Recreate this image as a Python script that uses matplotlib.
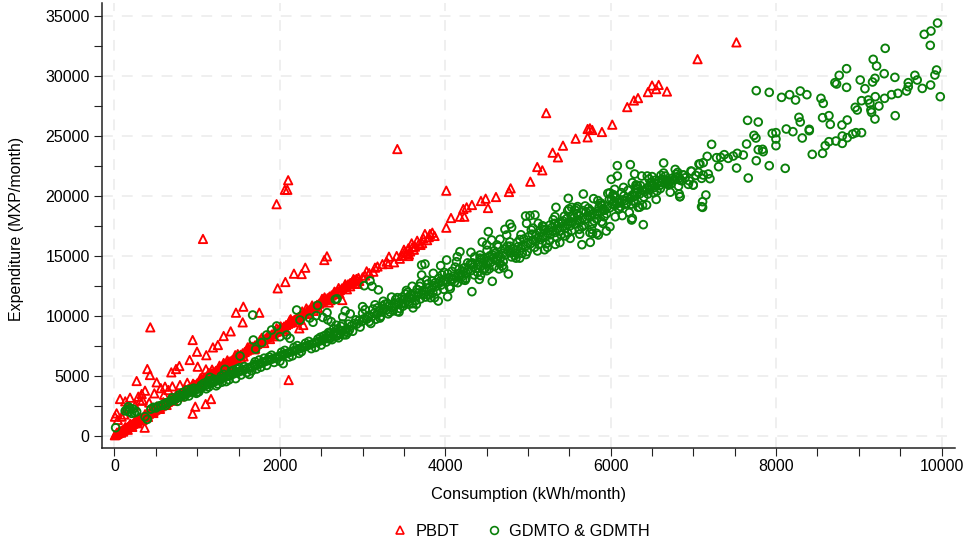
import matplotlib
matplotlib.use("Agg")
import matplotlib.pyplot as plt
from matplotlib.lines import Line2D

plt.rcParams['font.family'] = ['Liberation Sans', 'DejaVu Sans']

pbdt_outliers = [(433,9024),(945,7967),(998,6994),(909,6299),(1006,5742),(1106,5520),(784,5798),(744,5548),(687,5270),
 (397,5548),(429,5047),(268,4547),(510,4436),(611,4074),(651,3796),(369,3740),(329,3462),(288,3240),(482,3517),(188,3156),
 (67,3045),(792,4213),(26,1849),(6,1571),(87,1571),(365,653),(945,1821),(977,2405),(1102,2628),(1167,3045),(2106,4630),
 (1405,8690),(1469,10248),(1558,10748),(1550,9441),(1751,10248),(1973,12278),(2066,12806),(2170,13502),(2263,13474),
 (2307,14002),(2537,14642),(2569,14948),(3049,13696),(3150,14002),(3130,13668),(3291,14503),(3319,14920),(3311,14308),
 (3412,14975),(3532,15198),(2755,11305),(2235,8941),(2283,9219),(1070,16400),(1960,19300),(2060,20500),(2090,20500),
 (2100,21300),(3420,23900),(1250,7550),(1320,8300),(1190,7350),(1110,6700),(880,4400),(560,3950),(600,3400),(250,2500),
 (310,2900),(420,2750),(150,2300),(130,2850),(340,2950),(700,4100),(1050,4750),(40,1300),(120,1750)]

pbdt_upper = [(6019,25934),(5894,25322),(5749,25628),(5721,25572),(5777,25489),(5721,24877),(5576,24766),(5423,24182),
 (5298,23598),(5362,23208),(5112,22402),(5173,22124),(5028,21178),(4790,20622),(4770,20316),(4613,19899),(4488,19760),
 (4431,19565),(4516,18981),(4322,19232),(4258,19037),(4218,18898),(4230,18258),(4177,18258),(4069,18147),(4012,20427),
 (4012,17340),(3843,16923),(3815,16812),(3754,16812),(3734,16450),(3633,15755),(3593,16033),(3553,15616),(3512,15338),
 (3553,14977),(7050,31400),(7520,32800),(6450,28650),(6500,29200),(6580,29250),(6680,28700),(6550,28900),(6280,27950),
 (6330,28150),(6200,27400),(5220,26900),(3870,16650),(3780,16300),(3680,16000),(3620,15500),(3575,15350),(3480,15000),
 (3450,14750),(3380,14450)]

pbdt_band = [(5,20),(12,50),(20,90),(28,120),(36,160),(44,190),(52,230),(60,260),(68,300),(76,330),(84,370),(92,400),
 (100,440),(110,480),(120,520),(130,560),(140,610),(150,650),(160,700),(172,750),(185,800),(198,860),(210,910),(224,970),
 (238,1030),(252,1090),(266,1150),(280,1220),(296,1290),(312,1360),(328,1430),(345,1500),(362,1570),(380,1650),(398,1730),
 (416,1810),(435,1890),(455,1980),(475,2060),(495,2150),(515,2240),(535,2330),(556,2420),(578,2510),(600,2610),(622,2700),
 (645,2800),(668,2900),(692,3000),(716,3110),(740,3220),(765,3330),(790,3440),(815,3550),(840,3650),(866,3770),(892,3880),
 (918,3990),(945,4110),(972,4230),(1000,4350),(1025,4480),(1050,4600),(1075,4720),(1100,4830),(1125,4950),(1150,5060),
 (1175,5170),(1200,5290),(1225,5390),(1250,5510),(1275,5620),(1300,5740),(1325,5860),(1350,5950),(1375,6080),(1400,6190),
 (1425,6290),(1450,6400),(1475,6530),(1500,6640),(1525,6730),(1550,6860),(1575,6970),(1600,7080),(1625,7180),(1650,7300),
 (1675,7410),(1700,7520),(1725,7640),(1750,7730),(1775,7860),(1800,7970),(1825,8090),(1850,8180),(1875,8310),(1900,8420),
 (1925,8510),(1950,8640),(1975,8760),(2000,8860),(2025,8980),(2050,9090),(2075,9210),(2100,9320),(2125,9410),(2150,9540),
 (2175,9650),(2200,9760),(2225,9880),(2250,9990),(2275,10110),(2300,10200),(2325,10340),(2350,10440),(2375,10560),
 (2400,10670),(2425,10780),(2450,10900),(2475,11000),(2500,11130),(2525,11240),(2550,11360),(2575,11450),(2600,11590),
 (2625,11690),(2650,11800),(2675,11930),(2700,12040),(2725,12130),(2750,12270),(2775,12380),(2800,12480),(2825,12610),
 (2850,12720),(2875,12820),(2900,12950),(2925,13060),(2950,13150),(1180,5500),(1240,5150),(1320,6050),(1380,5850),
 (1460,6700),(1530,6450),(1610,7350),(1700,7250),(1780,8150),(1880,8050),(1960,8950),(2040,8700),(2130,9700),(2230,9650),
 (2320,10600),(2410,10400),(2510,11400),(2610,11300),(2710,12300),(2810,12200),(2910,12700),(3000,13200),(2960,12900)]

pbdt_band_edges = [(30,240),(55,330),(80,240),(105,330),(130,700),(160,480),(190,980),(215,720),(250,1260),(275,1020),
 (305,1500),(340,1300),(370,1780),(405,1550),(440,2080),(470,1880),(510,2420),(550,2220),(590,2780),(630,2550),(670,3080),
 (710,2920),(750,3420),(800,3260),(850,3860),(900,3700),(950,4320),(1000,4130),(1040,4780),(1090,4580),(1140,5220),(1195,5040),
 (1270,5820),(1310,5480),(1365,6270),(1415,6030),(1490,6790),(1560,6600),(1640,7500),(1690,7190),(1760,7950),(1810,7720),
 (1860,8400),(1930,8280),(2010,9100),(2060,8860),(2120,9600),(2190,9450),(2270,10350),(2340,10150),(2390,10850),(2460,10650),
 (2540,11520),(2590,11100),(2660,12000),(2720,11850),(2790,12620),(2850,12450),(2890,13050),(2940,12650),(3030,13350),(3080,13550),
 (3180,14100),(3240,14300),(3700,15900),(3600,15700),(3660,16250),(3800,16550),(3720,16050),(3560,15100),(3500,15500)]

gdm_low = [(14,653),(167,2405),(208,1849),(268,1988),(369,1571),(397,1349),(150,2150),(175,2000),(190,2250),(225,2200),
 (240,1900),(130,2050),(1671,10053),(2203,10470),(2243,9636),(1518,6632),(1679,7967),(1707,7216),(1780,7745),(1840,8385),
 (1900,8802),(1961,9135),(2001,8245),(2082,8385),(2122,8106),(1336,5520),(1155,4853),(2670,11350),(2690,11400),(2455,10850),
 (2440,10000),(2570,10250),(2360,9800),(3090,12900),(3020,12500),(3115,12450),(3190,12150),(2620,9500),(2580,9650),(2680,9200),
 (2520,9850),(2400,9450),(2760,9900),(2850,10150),(2790,10400),
 (440,2200),(470,2350),(500,2300),(530,2450),(560,2500),(590,2600),(620,2700),(650,2780),(680,2880),(710,2960),(740,3050),
 (770,3160),(800,3260),(830,3350),(860,3440),(890,3540),(920,3620),(950,3720),(980,3800),(1010,3900),(1040,3990),(1070,4080),
 (1100,4180),(1130,4260),(1160,4360),(1190,4430),(1220,4520),(1250,4620),(1280,4690),(1310,4780),(1340,4870),(1370,4950),
 (1400,5040),(1430,5110),(1460,5200),(1490,5270),(1520,5370),(1550,5430),(1580,5530),(1610,5600),(1640,5690),(1670,5760),
 (1700,5850),(1730,5920),(1760,6010),(1790,6080),(1820,6170),(1850,6240),(1880,6320),(1910,6390),(1940,6480),(1970,6550),
 (2000,6640),(2030,6700),(2060,6790),(2090,6860),(2120,6950),(2150,7020),(2180,7100),(2210,7170),(2240,7260),(2270,7330),
 (2300,7410),(2330,7490),(2360,7570),(2390,7640),(2420,7730),(2450,7800),(2480,7880),(2510,7950),
 (620,2500),(700,3150),(760,2850),(830,3600),(900,3300),(960,3950),(1020,3650),(1080,4350),(1140,4050),(1200,4700),
 (1250,4300),(1290,4950),(1350,4500),(1410,5350),(1465,4750),(1510,5650),(1600,5250),(1660,5400),(1720,5550),(1810,6450),
 (1840,5850),(1900,6700),(2000,6200),(2060,7100),(2150,6650),(2210,7500),(2260,7000),(2350,7850),(2430,7350),(2490,8200),
 (2040,6000),(1750,6300),(1690,5950),(1480,5550),(1300,4450),(1130,4550),(1000,3600),(880,3800)]

gdm_low_extra = [(780,3380),(845,3220),(925,3850),(990,3520),(1050,4200),(1110,3900),(1170,4580),(1230,4150),(1320,5100),
 (1385,4650),(1440,5450),(1530,5050),(1570,5750),(1630,5100),(1700,6150),(1770,5700),(1870,6550),(1930,6100),(2020,6950),
 (2110,6550),(2170,7350),(2230,6850),(2310,7700),(2380,7250),(2460,8050),(2500,7550),(2530,8300),(2560,7800),(2590,8600),
 (2630,8000),(2650,8900),(2710,8150),(2740,9100),(2800,8400),(2830,9300),(2880,8700),(2920,9650),(2970,9050),(2730,8750),
 (2770,8400),(2820,8600),(2660,8650),(2610,8550),(2700,8900),(2755,9300),(2690,8300),(2600,8050),(2560,8400)]

gdm_mid = [(2540,8050),(2570,8120),(2600,8280),(2625,8200),(2650,8400),(2680,8350),(2700,8550),(2730,8480),(2760,8750),
 (2790,8650),(2810,8900),(2840,8800),(2865,9150),(2900,9350),(2930,9300),(2960,9600),(2990,9500),(3020,9750),(3050,9700),
 (3080,10000),(3110,9900),(3140,10200),(3170,10100),(3200,10400),(3230,10300),(3260,10550),(3290,10500),(3320,10800),
 (3350,10700),(3380,11000),(3410,10900),(3440,11100),(3470,11000),(3500,11350),(3530,11250),(3560,11500),(3590,11400),
 (3620,11700),(3650,11650),(3680,11900),(3710,11800),(3740,12100),(3770,12000),(3800,12300),(3830,12200),(3860,12500),
 (3890,12450),(3920,12700),(3950,12550),(3980,12950),(4010,12800),(4040,13150),(4070,13050),(4100,13300),(4130,13200),
 (4160,13500),(4190,13400),(4220,13700),(4250,13550),(4280,13850),(4310,13750),(4340,14050),(4370,13950),(4400,14250),
 (4430,14150),(4460,14400),(4490,14300),(4520,14600),(4550,14450),(4580,14800),(4610,14700),(4640,15000),(4670,14850),
 (4700,15200),(4730,15100),(4760,15400),(4790,15250),(4820,15550),(4850,15450),(4880,15750),(4910,15650),(4940,15900),
 (4970,15800),(5000,16100),(5030,16000),(5060,16300),(5090,16200),(5120,16500),(5150,16350),(5180,16650),(5210,16550),
 (5240,16850),(5270,16750),(5300,17050),(5330,16950),(5360,17250),(5390,17100),(5420,17450),(5450,17300),(5480,17600),
 (5510,17500),(5540,17800),(5570,17650),(5600,18000),(5630,17850),(5660,18150),(5690,18050),(5720,18350),(5750,18250),
 (5780,18500),(5810,18400),(5840,18700),(5870,18600),(5900,18900),(5930,18800),(5960,19100),(5990,19000),(6020,19300),
 (6050,19200),(6080,19450),(6110,19400),(6140,19650),(6170,19600),(6200,19850),(6230,19750),(6260,20050),(6290,19950),
 (6320,20250),(6350,20150),(6380,20450),(6410,20350),(6440,20600),(6470,20500),(6500,20800),(6530,20700),(6560,21000),
 (6590,20850),(6620,21100),(6650,21050),(6680,21300),(6710,21200),(6740,21450),(6770,21350),(6800,21550),(6830,21500),
 (3000,10200),(3080,9500),(3160,9700),(3240,10800),(3310,10150),(3400,11350),(3450,10600),(3520,11800),(3600,11000),
 (3660,12200),(3700,11400),(3790,12650),(3850,11900),(3920,13100),(3980,12200),(4030,13500),(4110,12800),(4170,13900),
 (4250,13100),(4300,14300),(4390,13600),(4440,14700),(4530,13900),(4600,15200),(4660,14350),(4720,15550),(4800,14900),
 (4870,16100),(4930,15200),(5010,16600),(5080,15700),(5150,16950),(5220,16000),(5290,17350),(5350,16500),(5420,17900),
 (5480,16900),(5560,18200),(5620,17200),(5700,18650),(5780,17650),(5860,19050),(5920,18250),(6010,19700),(6100,18900),
 (6160,20000),(6250,19300),(6330,20550),(6400,19900),(6490,21100),(6560,20400),(6620,21400),(6700,20900),(6790,21800),
 (3150,10900),(3220,9950),(3480,11550),(3560,10950),(3810,11750),(4080,13700),(4210,13000),(4460,13800),(4700,14500),
 (4950,16400),(5200,17100),(5450,16650),(5650,17400),(5830,18050),(6050,19850),(6300,19400),(6520,20250)]

gdm_mid_extra = [(3030,10500),(3125,10550),(3210,9800),(3270,10950),(3330,10300),(3420,11500),(3490,10800),(3545,11950),
 (3640,11250),(3690,12450),(3760,11550),(3840,12900),(3900,12050),(3960,13400),(4050,12400),(4120,14050),(4200,13250),
 (4270,14400),(4350,13400),(4420,14800),(4500,13750),(4590,15400),(4690,14150),(4750,15800),(4840,15000),(4900,16350),
 (4990,15350),(5050,16800),(5130,15950),(5190,17200),(5260,16250),(5320,17700),(5400,16750),(5470,18100),(5530,17100),
 (5590,18500),(5670,17500),(5730,18950),(5800,17900),(5880,19400),(5950,18500),(6030,20100),(6120,19100),(6210,20450),
 (6280,19600),(6360,20850),(6450,20150),(6540,21300),(6600,20600),(6660,21650),(6730,21000),(6810,21950),(6860,21250),
 (3060,9900),(3180,10650),(3300,11000),(3370,10400),(3510,11000),(3580,11750),(3740,11750),(3880,12750),(3940,12900),
 (4090,13000),(4230,14000),(4330,14400),(4470,14750),(4540,15000),(4630,14600),(4780,15800),(4860,15200),(5100,16700),
 (5250,17100),(5370,17700),(5520,18300),(5610,18350),(5740,18700),(5890,19200),(6040,19500),(6180,19300),(6310,20600),
 (6470,20850),(6580,21250),(6690,21000)]

gdm_mid_spread = [(3600,12450),(3650,10950),(3775,12950),(3820,11500),(3990,13600),(4060,12250),(4135,14500),(4240,12950),
 (4355,14900),(4425,13350),(4505,15450),(4595,14100),(4625,15900),(4705,14000),(4780,16150),(4855,14800),(4915,16750),
 (4975,15100),(5040,17150),(5115,15400),(5175,17500),(5235,15700),(5305,18000),(5385,16100),(5440,18300),(5510,16450),
 (5585,18950),(5625,16800),(5690,19150),(5770,17200),(5845,19600),(5905,17700),(5965,20200),(6055,18250),(6155,20700),
 (6225,18600),(6305,20900),(6385,19200),(6465,21400),(6550,19700),(6640,21900),(6720,20300),(6780,22200),(6820,20800),
 (3350,11550),(3440,10300),(3530,12100),(3610,10650),(3700,12700),(3870,11500),(4150,12750),(4500,15900),(4650,13900),
 (4900,14800),(5060,17300),(5330,15950),(5600,19100),(5780,16850),(5990,20250),(6140,18350),(6350,19050),(6500,21600),
 (3000,10750),(3100,9350),(3250,11200),(3420,10350),(5200,15500),(5480,18750)]

gdm_upper = [(6080,22513),(6237,22597),(6640,22736),(6007,21373),(6080,21651),(6289,21818),(6374,21651),(6442,21651),
 (6607,21707),(6970,22068),(7067,22652),(6261,21095),(6321,20872),(6523,21039),(6047,20538),(6132,20260),(6293,20260),
 (5669,20149),(5487,19788),(5793,19760),(5983,19704),(6031,19982),(6434,20622),(6676,21178),(6757,21317),(6878,21734),
 (6837,19927),(6829,20149),(6998,20900),(7099,19092),(6394,17591),(6253,17980),(6261,18119),(6434,19231),(6333,19037),
 (6192,19371),(6092,18953),(5991,17424),(5947,17062),(5850,16729),(5830,16868),(5753,16117),(5652,15922),(5749,16923),
 (5890,17841),(5882,19231),(5910,18814),(5338,19037),(5527,19037),(5495,18898),(5568,18814),(5669,18759),(5757,18759),
 (5326,18258),(5084,18397),(5024,18342),(4971,18314),(4983,17702),(5124,17702),(5266,17563),(5185,17424),(5407,17702),
 (5515,17841),(4782,17646),(4802,17368),(4721,17201),(4742,16729),(4520,17007),(4447,16145),(4560,16312),(4661,16367),
 (4641,15755),(4177,15338),(4145,14921),(4016,14643),(3754,14309),(3714,14225),(3944,14170),(4310,15283),(4419,15060),
 (4318,14254),(4480,13948),(4572,15060),(4762,13475),(4568,12863),(4411,13030),(4322,12001),(4028,11584),(3915,11222),
 (3714,13391),(3855,13531)]

gdm_high = [(9952,34415),(9872,33748),(9791,33470),(9864,32552),(9319,32302),(9174,31384),(9215,30828),(9307,30188),
 (8852,30605),(8763,30049),(8711,29437),(8731,29326),(8852,29048),(9017,29660),(9074,28937),(9166,29493),(9195,29799),
 (9436,29882),(9678,30049),(9940,30494),(9920,30077),(9706,29660),(9598,29437),(9598,29103),(9577,28742),(9767,28960),
 (9868,29242),(9985,28269),(9473,28547),(9396,28436),(9311,28130),(9199,28269),(9114,27991),(9033,27935),(9134,27713),
 (9243,27490),(8957,27379),(8981,27157),(9146,27157),(9154,26962),(9195,26406),(9440,26684),(8860,26322),(8796,25905),
 (8655,25961),(8639,26684),(8562,26517),(8542,28130),(8570,27713),(8372,28436),(8292,28742),(8235,27991),(8163,28436),
 (8066,28213),(7917,28630),(7760,28770),(7655,26295),(7784,26155),(8276,26545),(8292,26155),(8123,25572),(8203,25349),
 (8401,25544),(8401,25433),(8316,24821),(7998,25266),(7953,25210),(7998,24737),(7998,24181),(7732,25043),(7756,24821),
 (7643,24320),(7784,23847),(7836,23875),(7844,23680),(7760,22929),(7917,22512),(8110,22290),(8437,23458),(8562,23541),
 (8594,24181),(8639,24515),(8723,24570),(8800,24987),(8800,24375),(8860,24848),(8925,25154),(8965,25266),(9033,25266),
 (7220,24292),(7167,23291),(7079,22652),(7119,22763),(7280,23180),(7329,23208),(7373,23430),(7421,23124),(7482,23319),
 (7530,23541),(7603,23402),(7304,22429),(7522,22318),(7663,21483),(6978,22040),(6877,21734),(7180,21817),(7119,21734),
 (7200,21428),(7099,21456),(7151,20065),(7111,19509),(7111,19036),(6998,20900),(6938,20955),(6837,21316),(6837,19926),
 (6900,21500),(6950,21250),(7030,21700),(7060,21950)]

pbdt = pbdt_band + pbdt_band_edges + pbdt_outliers + pbdt_upper
gdm = gdm_low + gdm_low_extra + gdm_mid + gdm_mid_extra + gdm_mid_spread + gdm_upper + gdm_high
series_names = ["PBDT", "GDMTO & GDMTH"]
x_major = [0, 2000, 4000, 6000, 8000, 10000]
x_minor = [500, 1000, 1500, 2500, 3000, 3500, 4500, 5000, 5500, 6500, 7000, 7500, 8500, 9000, 9500]
y_major = [0, 5000, 10000, 15000, 20000, 25000, 30000, 35000]
y_minor = [2500, 7500, 12500, 17500, 22500, 27500, 32500]

fig = plt.figure(figsize=(9.66, 5.46), dpi=100)
ax = fig.add_axes([101.5/966, 1-447.5/546, (955-101.5)/966, (447.5-3)/546])
ax.set_xlim(-157, 10163)
ax.set_ylim(-1000, 36085)

ax.scatter(*zip(*pbdt), marker='^', s=36, facecolors='none', edgecolors='#ff0000', linewidths=1.35, zorder=3)
ax.scatter(*zip(*gdm), marker='o', s=31, facecolors='none', edgecolors='#0a800a', linewidths=1.35, zorder=4)

ax.set_xticks(x_major)
ax.set_xticks(x_minor, minor=True)
ax.set_yticks(y_major)
ax.set_yticks(y_minor, minor=True)
ax.grid(True, which='major', color='#eeeeee', lw=1.3, ls=(0, (6, 5)), zorder=0)
ax.set_axisbelow(True)
for s in ('top', 'right'):
    ax.spines[s].set_visible(False)
for s in ('left', 'bottom'):
    ax.spines[s].set_linewidth(1.1)
    ax.spines[s].set_color('#222222')
ax.tick_params(which='both', length=5.5, width=0.8, color='#222222', labelsize=11.5, pad=3)
ax.set_xlabel("Consumption (kWh/month)", fontsize=11.8, labelpad=9)
ax.set_ylabel("Expenditure (MXP/month)", fontsize=11.5)
ax.yaxis.set_label_coords(-0.0905, 0.4916)

handles = [Line2D([], [], marker='^', ls='', mfc='none', mec='#ff0000', mew=1.2, ms=6),
           Line2D([], [], marker='o', ls='', mfc='none', mec='#0a800a', mew=1.2, ms=5.6)]
fig.legend(handles, series_names, loc='center', bbox_to_anchor=(521/966, 1-531/546), ncol=2, frameon=False,
           fontsize=11.8, handlelength=1, handletextpad=0.45, columnspacing=1.59)
fig.savefig("out.png", dpi=100)
